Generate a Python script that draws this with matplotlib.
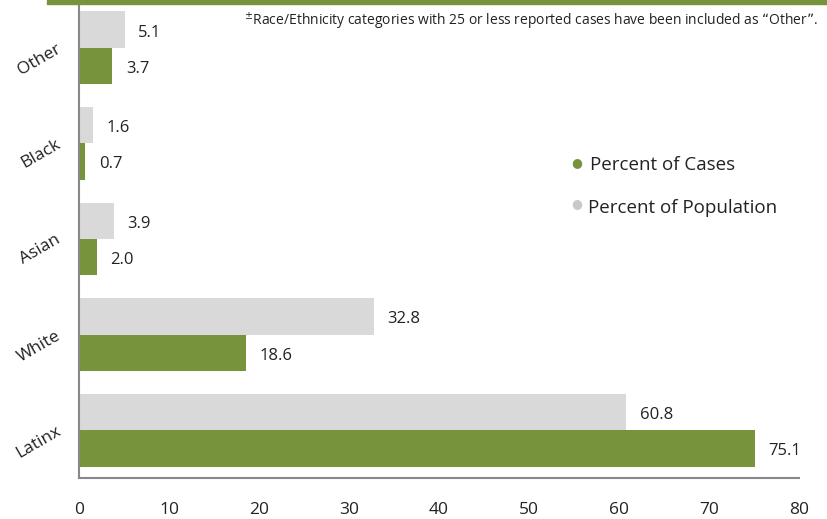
import numpy as np
import matplotlib.pyplot as plt
from matplotlib.patches import Rectangle

plt.rcParams['font.family'] = ['Open Sans', 'DejaVu Sans']

# Data
groups = ['Latinx', 'White', 'Asian', 'Black', 'Other']
pct_cases = [75.1, 18.6, 2.0, 0.7, 3.7]
pct_population = [60.8, 32.8, 3.9, 1.6, 5.1]

green = '#77933C'
gray = '#D9D9D9'

fig = plt.figure(figsize=(8.28, 5.19), dpi=100)
ax = fig.add_axes([79 / 828, (519 - 478) / 519, 720 / 828, 478 / 519])

y = np.arange(len(groups))
h = 0.38
ax.barh(y - h / 2, pct_cases, height=h, color=green)
ax.barh(y + h / 2, pct_population, height=h, color=gray)

# value labels
for yi, v in zip(y, pct_cases):
    ax.text(v + 1.5, yi - h / 2 - 0.03, f'{v:.1f}', va='center', ha='left', fontsize=12, color='#222222')
for yi, v in zip(y, pct_population):
    ax.text(v + 1.5, yi + h / 2 - 0.03, f'{v:.1f}', va='center', ha='left', fontsize=12, color='#222222')

ax.set_xlim(0, 80)
ax.set_ylim(-0.5, 4.5)
ax.set_xticks(np.arange(0, 81, 10))
ax.set_yticks(y)
ax.set_yticklabels(groups, rotation=30, ha='right', va='center', rotation_mode='anchor')
ax.tick_params(axis='both', length=0, labelsize=12.5, colors='#222222')
ax.tick_params(axis='x', pad=17)
ax.tick_params(axis='y', pad=14)
for s in ['top', 'right']:
    ax.spines[s].set_visible(False)
for s in ['left', 'bottom']:
    ax.spines[s].set_color('#888888')
    ax.spines[s].set_linewidth(1.5)

# legend
fig.text(577 / 828, 1 - 163 / 519, '\u25CF', color=green, fontsize=9, ha='center', va='center')
fig.text(590 / 828, 1 - 165 / 519, 'Percent of Cases', fontsize=13.5, ha='left', va='center', color='#222222')
fig.text(577 / 828, 1 - 204 / 519, '\u25CF', color='#C8C8C8', fontsize=9, ha='center', va='center')
fig.text(588 / 828, 1 - 208 / 519, 'Percent of Population', fontsize=13.5, ha='left', va='center', color='#222222')

# footnote
fig.text(818 / 828, 1 - 21 / 519, '$^{\\pm}$Race/Ethnicity categories with 25 or less reported cases have been included as \u201cOther\u201d.',
         fontsize=10, ha='right', va='center', color='#222222')

# top band
fig.patches.append(Rectangle((47 / 828, 1 - 4 / 519), 1, 4 / 519, transform=fig.transFigure,
                             color=green, zorder=5))

fig.savefig('out.png', dpi=100)
